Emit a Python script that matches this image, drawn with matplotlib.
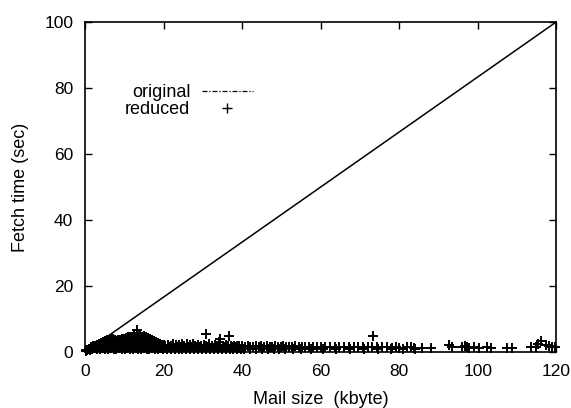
import matplotlib
matplotlib.use("Agg")
import matplotlib.pyplot as plt
from matplotlib.lines import Line2D

plt.rcParams['font.family'] = ['Liberation Sans', 'DejaVu Sans']

# original: fetch time grows linearly with mail size
orig_size = [0, 120]
orig_time = [0, 100]

# reduced, in (kbyte, sec)
# dense blob 0-20 kbyte, upper edge
top_size = [0.2, 0.6, 1.0, 1.5, 2.0, 2.5, 3.0, 3.5, 4.0, 4.5, 5.0, 5.5, 6.0, 6.5,
            7.0, 7.5, 8.0, 8.5, 9.0, 9.5, 10.0, 10.5, 11.0, 11.5, 12.0, 12.5, 13.0,
            13.5, 14.0, 14.5, 15.0, 15.5, 16.0, 16.5, 17.0, 17.5, 18.0, 18.5, 19.0,
            19.5, 20.0]
top_time = [0.4, 0.7, 1.0, 1.4, 1.7, 2.0, 2.3, 2.6, 2.9, 3.2, 3.4, 3.6, 3.8, 4.0,
            3.9, 3.7, 3.5, 3.6, 3.8, 3.9, 4.1, 4.3, 4.5, 4.6, 4.7, 4.8, 4.7, 4.9,
            4.8, 4.7, 4.8, 4.6, 4.4, 4.1, 3.8, 3.4, 3.0, 2.7, 2.5, 2.3, 2.1]
# blob interior, 0-20 kbyte
fill1_size = [0.3, 1.0, 1.7, 2.4, 3.1, 3.8, 4.5, 5.2, 5.9, 6.6, 7.3, 8.0, 8.7, 9.4,
              10.1, 10.8, 11.5, 12.2, 12.9, 13.6, 14.3, 15.0, 15.7, 16.4, 17.1, 17.8,
              18.5, 19.2, 19.9]
fill1_time = [0.7, 0.9, 1.0, 1.1, 1.0, 0.9, 1.1, 1.0, 0.9, 1.1, 1.0, 0.9, 1.1, 1.0,
              0.9, 1.1, 1.0, 0.9, 1.1, 1.0, 0.9, 1.1, 1.0, 0.9, 1.1, 1.0,
              0.9, 1.1, 1.0]
fill2_size = [2.4, 3.1, 3.8, 4.5, 5.2, 5.9, 6.6, 7.3, 8.0, 8.7, 9.4, 10.1, 10.8, 11.5,
              12.2, 12.9, 13.6, 14.3, 15.0, 15.7, 16.4, 17.1, 17.8, 18.5, 19.2]
fill2_time = [1.5, 1.8, 2.0, 2.1, 2.2, 2.0, 2.1, 2.2, 2.0, 2.1, 2.2, 2.0, 2.1, 2.2,
              2.0, 2.1, 2.2, 2.0, 2.1, 2.2, 2.0, 2.1, 2.0, 1.9, 1.7]
fill3_size = [5.2, 5.9, 6.6, 7.3, 8.0, 8.7, 9.4, 10.1, 10.8, 11.5, 12.2, 12.9, 13.6,
              14.3, 15.0, 15.7, 16.4, 17.1]
fill3_time = [2.8, 3.0, 3.1, 3.0, 2.9, 3.0, 3.1, 3.2, 3.3, 3.4, 3.5, 3.5, 3.6,
              3.5, 3.5, 3.4, 3.2, 2.9]
# extra interior points between the rows, 0-20 kbyte
fill4_size = [1.3, 2.0, 2.7, 3.4, 4.1, 4.8, 5.5, 6.2, 6.9, 7.6, 8.3, 9.0, 9.7,
              10.4, 11.1, 11.8, 12.5, 13.2, 13.9, 14.6, 15.3, 16.0, 16.7, 17.4,
              18.1, 18.8, 19.5]
fill4_time = [0.6, 1.3, 1.5, 1.6, 1.5, 1.6, 1.5, 1.6, 1.5, 1.6, 1.5, 1.6, 1.5,
              1.6, 1.5, 1.6, 1.5, 1.6, 1.5, 1.6, 1.5, 1.6, 1.5, 1.6,
              1.5, 1.4, 1.3]
# 20-40 kbyte, ragged band
mid_size = [20.4, 21.1, 21.8, 22.5, 23.2, 23.9, 24.6, 25.3, 26.0, 26.7, 27.4, 28.1,
            28.8, 29.5, 30.2, 30.9, 31.6, 32.3, 33.0, 33.7, 34.4, 35.1, 35.8, 36.5,
            37.2, 37.9, 38.6, 39.3,
            20.8, 21.8, 22.8, 23.8, 24.8, 25.8, 26.8, 27.8, 28.8, 29.8, 30.8, 31.8,
            32.8, 33.8, 34.8, 35.8, 36.8, 37.8, 38.8, 39.8,
            21.3, 22.3, 23.3, 24.3, 25.3, 26.3, 27.3, 28.3, 29.3, 30.3, 31.3, 32.3,
            33.3, 34.3, 35.3, 36.3, 37.3, 38.3, 39.3]
mid_time = [2.0, 2.3, 1.9, 2.4, 2.1, 2.3, 2.6, 2.0, 2.4, 2.1, 2.5, 2.0,
            2.2, 1.9, 2.3, 2.0, 2.4, 1.8, 2.2, 2.0, 2.1, 1.8, 2.3, 1.9,
            2.0, 1.8, 1.9, 1.7,
            0.9, 1.0, 0.9, 1.0, 0.9, 1.0, 0.9, 1.0, 0.9, 1.0, 0.9, 1.0,
            0.9, 1.0, 0.9, 1.0, 0.9, 1.0, 0.9, 1.0,
            1.5, 1.4, 1.5, 1.4, 1.5, 1.4, 1.5, 1.4, 1.5, 1.4, 1.5, 1.4,
            1.5, 1.4, 1.5, 1.4, 1.5, 1.4, 1.3]
# 40-90 kbyte, thinner band
far_size = [40.0, 40.7, 41.4, 42.1, 42.8, 43.5, 44.2, 44.9, 45.6, 46.3,
            47.0, 47.7, 48.4, 49.1, 49.8, 50.5, 51.2, 52.0, 52.8, 53.6,
            54.4, 55.2, 56.0, 57.0, 58.0, 59.0, 60.0, 61.2, 62.4, 63.6,
            64.8, 66.0, 67.2, 68.4, 69.6, 70.8, 72.0, 73.2, 74.4, 75.6,
            77.0, 78.2, 79.1, 79.9, 82.1, 82.9, 83.7, 85.9, 88.0,
            40.5, 42.0, 43.5, 45.0, 46.5, 48.0, 49.5, 51.0, 53.0, 55.0,
            57.5, 60.5, 64.0, 67.5, 71.0, 74.5, 78.0, 81.0, 84.0]
far_time = [1.8, 1.5, 1.9, 1.6, 1.4, 1.8, 1.5, 1.7, 1.4, 1.8,
            1.6, 1.5, 1.8, 1.4, 1.6, 1.7, 1.4, 1.6, 1.5, 1.7,
            1.4, 1.6, 1.5, 1.4, 1.6, 1.5, 1.4, 1.6, 1.5, 1.4,
            1.6, 1.5, 1.4, 1.6, 1.5, 1.4, 1.6, 1.5, 1.4, 1.5,
            1.4, 1.3, 1.4, 1.3, 1.6, 1.5, 1.3, 1.3, 1.3,
            0.9, 1.0, 0.9, 1.0, 0.9, 1.0, 0.9, 1.0, 0.9, 1.0,
            0.9, 1.0, 0.9, 1.0, 0.9, 1.0, 0.9, 1.0, 0.9]
# 90-120 kbyte, sparse clusters
tail_size = [92.7, 93.5, 96.1, 96.7, 97.2, 97.8, 99.1, 100.3, 102.5, 103.3, 107.6,
             108.8, 113.5, 114.8, 115.5, 116.1, 117.3, 118.2, 119.0, 119.6]
tail_time = [2.1, 1.6, 1.4, 1.8, 1.5, 1.3, 1.4, 1.3, 1.4, 1.3, 1.3,
             1.3, 1.4, 1.5, 2.4, 3.3, 2.2, 1.8, 1.5, 1.4]
# outliers
out_size = [13.2, 30.9, 34.0, 34.4, 36.7, 73.3]
out_time = [6.8, 5.6, 3.2, 3.9, 5.0, 5.0]

red_size = (top_size + fill1_size + fill2_size + fill3_size + fill4_size
            + mid_size + far_size + tail_size + out_size)
red_time = (top_time + fill1_time + fill2_time + fill3_time + fill4_time
            + mid_time + far_time + tail_time + out_time)

fig = plt.figure(figsize=(5.71, 4.08), dpi=100)
ax = fig.add_axes([0.149, 0.137, 0.825, 0.809])

ax.plot(orig_size, orig_time, color="black", linewidth=1.1)
ax.plot(red_size, red_time, linestyle="none", marker="+", markersize=7,
        markeredgewidth=1.4, color="black", clip_on=False)

ax.set_xlim(0, 120)
ax.set_ylim(0, 100)
ax.set_xticks([0, 20, 40, 60, 80, 100, 120])
ax.set_yticks([0, 20, 40, 60, 80, 100])
ax.tick_params(direction="in", top=True, right=True, length=5, width=1,
               labelsize=12.5, pad=8.5)
for s in ax.spines.values():
    s.set_linewidth(1.2)

ax.set_xlabel("Mail size  (kbyte)", fontsize=13, labelpad=9)
ax.set_ylabel("Fetch time (sec)", fontsize=13, labelpad=11)

handles = [Line2D([], [], color="black", linewidth=0.9, linestyle=(0, (4, 1.5, 1, 1.5))),
           Line2D([], [], color="black", linestyle="none", marker="+",
                  markersize=7, markeredgewidth=1.0)]
ax.legend(handles, ["original", "reduced"], loc="upper left",
          bbox_to_anchor=(0.066, 0.84), markerfirst=False, frameon=False,
          fontsize=13, handlelength=2.8, handletextpad=0.65,
          labelspacing=0.0, borderpad=0)

fig.savefig("out.png", dpi=100)
